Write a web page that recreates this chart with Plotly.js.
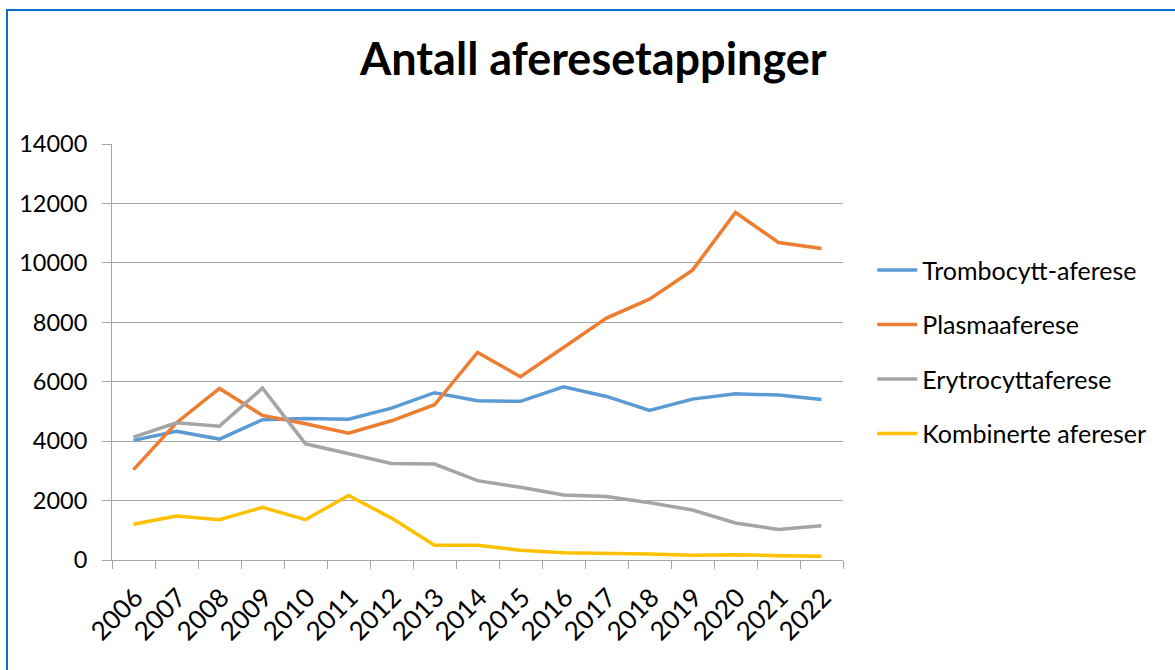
<!DOCTYPE html>
<html>
<head>
<meta charset="utf-8">
<script src="https://cdn.plot.ly/plotly-3.0.1.min.js"></script>
<style>
  html, body { margin: 0; padding: 0; background: #ffffff; overflow: hidden; }
  #frame { position: absolute; left: 6px; top: 9px; width: 1300px; height: 800px;
           border-left: 2px solid #0A6FC4; border-top: 2px solid #0A6FC4; box-sizing: border-box; }
  #chart { position: absolute; left: 0; top: 0; width: 1175px; height: 670px; }
</style>
</head>
<body>
<div id="frame"></div>
<div id="chart"></div>
<script>
const years = ["2006","2007","2008","2009","2010","2011","2012","2013","2014","2015","2016","2017","2018","2019","2020","2021","2022"];
const trombocytt = [4025,4330,4070,4720,4760,4740,5110,5630,5360,5340,5830,5505,5035,5415,5595,5550,5405];
const plasma = [3040,4620,5775,4865,4585,4270,4685,5225,6985,6165,7150,8140,8780,9755,11695,10685,10480];
const erytrocytt = [4135,4620,4505,5785,3910,3585,3250,3230,2670,2445,2185,2140,1930,1680,1245,1030,1155];
const kombinerte = [1200,1480,1355,1770,1355,2175,1410,495,495,325,245,235,200,157,180,145,123];
const seriesNames = ["Trombocytt-aferese","Plasmaaferese","Erytrocyttaferese","Kombinerte afereser"];
const yTicks = [0,2000,4000,6000,8000,10000,12000,14000];

const colors = ["#5B9BD5","#ED7D31","#A5A5A5","#FFC000"];
const seriesData = [trombocytt, plasma, erytrocytt, kombinerte];
const traces = seriesData.map((d, i) => ({
  type: "scatter", mode: "lines", x: years, y: d, name: seriesNames[i],
  legendgroup: "g" + i,
  line: { color: colors[i], width: 3.5 }
}));

const font = "Lato, 'Liberation Sans', sans-serif";
const layout = {
  width: 1175, height: 670,
  paper_bgcolor: "rgba(0,0,0,0)", plot_bgcolor: "rgba(0,0,0,0)",
  margin: { l: 112, r: 332, t: 144, b: 110 },
  title: { text: "<b>Antall aferesetappinger</b>", x: 0.505, xanchor: "center", y: 0.912, yanchor: "middle",
           font: { family: font, size: 45, color: "#000000" } },
  font: { family: font, size: 23, color: "#000000" },
  showlegend: true,
  legend: { x: 1.04, xanchor: "left", y: 0.752, yanchor: "top", tracegroupgap: 19,
            font: { family: font, size: 25, color: "#000000" }, itemwidth: 40,
            bgcolor: "rgba(0,0,0,0)" },
  xaxis: {
    type: "category", tickvals: years, ticktext: years, tickangle: -45,
    tickson: "boundaries", ticks: "outside", ticklen: 8, tickcolor: "#A6A6A6", tickwidth: 1,
    showline: true, linecolor: "#A6A6A6", linewidth: 1, showgrid: false,
    ticklabelstandoff: 11, ticklabelshift: 2,
    tickfont: { family: font, size: 26, color: "#000000" }, range: [-0.5, 16.5], fixedrange: true
  },
  yaxis: {
    range: [0, 14000], tickvals: yTicks, ticktext: yTicks.map(String),
    ticks: "outside", ticklen: 9, tickcolor: "#A6A6A6", tickwidth: 1,
    showline: true, linecolor: "#A6A6A6", linewidth: 1,
    showgrid: true, gridcolor: "#A6A6A6", gridwidth: 1, zeroline: false,
    tickfont: { family: font, size: 23.5, color: "#000000" }, ticklabelstandoff: 10
  }
};
Plotly.newPlot("chart", traces, layout, { displayModeBar: false, staticPlot: true });
</script>
</body>
</html>
